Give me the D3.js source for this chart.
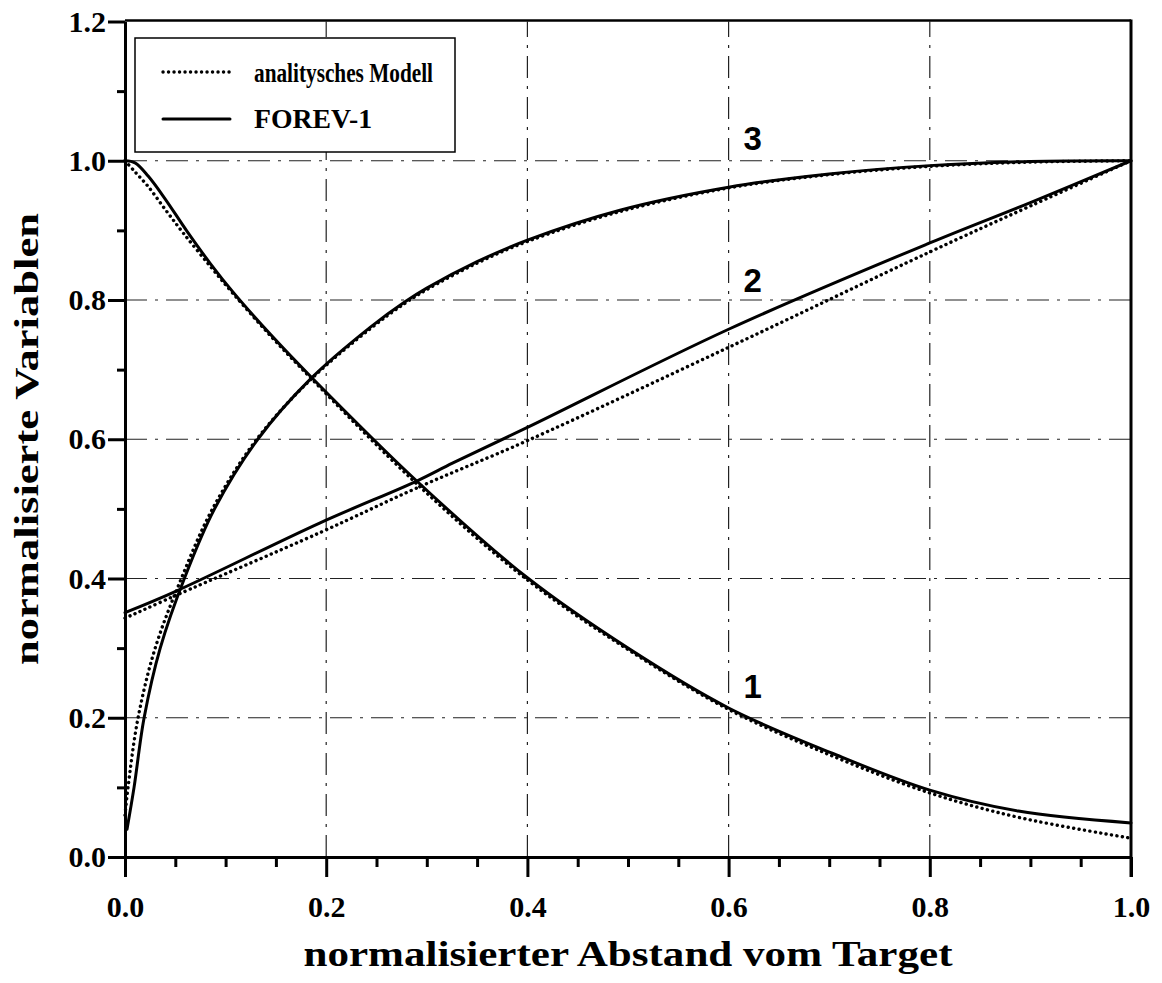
<!DOCTYPE html>
<html>
<head>
<meta charset="utf-8">
<script src="https://cdn.jsdelivr.net/npm/d3@7/dist/d3.min.js"></script>
<style>
  html, body { margin: 0; padding: 0; background: #fff; }
  svg { display: block; }
</style>
</head>
<body>
<svg id="chart" width="1162" height="983"></svg>
<script>
// Curve 1 (falling), curve 2 (near-linear), curve 3 (saturating); x = normalised distance
const curve1Sim = [[0,1.0],[0.01,0.997],[0.023,0.978],[0.04,0.945],[0.061,0.90],[0.085,0.852],[0.107,0.812],[0.145,0.750],[0.186,0.688],[0.29,0.54],[0.40,0.401],[0.5,0.30],[0.6,0.214],[0.703,0.149],[0.8,0.096],[0.888,0.066],[1.0,0.049]];
const curve1Model = [[0,1.0],[0.01,0.984],[0.023,0.963],[0.04,0.93],[0.058,0.896],[0.085,0.848],[0.107,0.81],[0.145,0.748],[0.186,0.686],[0.29,0.536],[0.40,0.398],[0.5,0.298],[0.6,0.212],[0.7,0.147],[0.8,0.092],[0.888,0.057],[1.0,0.027]];
const curve2Sim = [[0,0.351],[0.051,0.382],[0.194,0.480],[0.29,0.540],[0.326,0.566],[0.40,0.617],[0.6,0.758],[0.8,0.882],[0.9,0.94],[1.0,1.0]];
const curve2Model = [[0,0.343],[0.051,0.376],[0.194,0.466],[0.29,0.530],[0.40,0.598],[0.6,0.732],[0.8,0.869],[0.9,0.935],[1.0,1.0]];
const curve3Sim = [[0.002,0.04],[0.009,0.10],[0.019,0.20],[0.035,0.30],[0.059,0.40],[0.089,0.50],[0.132,0.60],[0.184,0.686],[0.244,0.761],[0.278,0.797],[0.3,0.817],[0.35,0.855],[0.40,0.886],[0.492,0.929],[0.6,0.962],[0.7,0.981],[0.8,0.993],[0.9,0.999],[1.0,1.0]];
const curve3Model = [[0,0.06],[0.003,0.10],[0.013,0.20],[0.030,0.30],[0.056,0.40],[0.087,0.50],[0.131,0.60],[0.184,0.685],[0.244,0.759],[0.278,0.795],[0.3,0.815],[0.35,0.853],[0.40,0.884],[0.492,0.927],[0.6,0.961],[0.7,0.980],[0.8,0.992],[0.9,0.998],[1.0,1.0]];

const xMajorTicks = [0, 0.2, 0.4, 0.6, 0.8, 1.0];
const xMinorTicks = [0.05,0.1,0.15,0.25,0.3,0.35,0.45,0.5,0.55,0.65,0.7,0.75,0.85,0.9,0.95];
const yMajorTicks = [0, 0.2, 0.4, 0.6, 0.8, 1.0, 1.2];
const yMinorTicks = [0.1, 0.3, 0.5, 0.7, 0.9, 1.1];
const curveLabels = [["1", 0.624, 0.229], ["2", 0.624, 0.811], ["3", 0.624, 1.015]];
const legendEntries = [["analitysches Modell", "model"], ["FOREV-1", "sim"]];
const xTitle = "normalisierter Abstand vom Target";
const yTitle = "normalisierte Variablen";

const svg = d3.select("#chart");
const x = d3.scaleLinear().domain([0, 1]).range([125, 1131]);
const y = d3.scaleLinear().domain([0, 1.2]).range([857, 21.5]);
const serif = "'Liberation Serif', 'Times New Roman', serif";
const sans = "'Liberation Sans', Arial, sans-serif";

// dash-dot grid
const grid = svg.append("g").attr("stroke", "#222").attr("stroke-width", 1.2)
  .attr("stroke-dasharray", "22,8,3,8").attr("fill", "none");
grid.selectAll("line.gx").data(xMajorTicks.filter(d => d > 0 && d < 1)).join("line")
  .attr("x1", d => x(d)).attr("x2", d => x(d)).attr("y1", y(0)).attr("y2", y(1.2));
grid.selectAll("line.gy").data(yMajorTicks.filter(d => d > 0 && d < 1.2)).join("line")
  .attr("x1", x(0)).attr("x2", x(1)).attr("y1", d => y(d)).attr("y2", d => y(d));

// curves
const line = d3.line().x(d => x(d[0])).y(d => y(d[1])).curve(d3.curveCatmullRom.alpha(0.5));
const styles = {
  sim: { width: 3, dash: null },
  model: { width: 3.4, dash: "0.1,5.4" }
};
const series = [
  [curve1Model, "model"], [curve2Model, "model"], [curve3Model, "model"],
  [curve1Sim, "sim"], [curve2Sim, "sim"], [curve3Sim, "sim"]
];
svg.append("g").selectAll("path").data(series).join("path")
  .attr("d", d => line(d[0]))
  .attr("fill", "none").attr("stroke", "#000")
  .attr("stroke-width", d => styles[d[1]].width)
  .attr("stroke-dasharray", d => styles[d[1]].dash)
  .attr("stroke-linecap", "round").attr("stroke-linejoin", "round");

// axes
function styleAxis(g) {
  g.select(".domain").attr("stroke", "#000").attr("stroke-width", 3);
  g.selectAll(".tick line").attr("stroke", "#000").attr("stroke-width", 3);
  g.selectAll(".tick text").attr("fill", "#000")
    .style("font-family", serif).style("font-weight", "bold").style("font-size", "30px");
}
const fmt = d3.format(".1f");
svg.append("g").attr("transform", `translate(0,${y(0)})`)
  .call(d3.axisBottom(x).tickValues(xMinorTicks).tickSize(10).tickSizeOuter(0).tickFormat(""))
  .call(styleAxis);
svg.append("g").attr("transform", `translate(0,${y(0)})`)
  .call(d3.axisBottom(x).tickValues(xMajorTicks).tickSize(20).tickSizeOuter(0).tickPadding(19).tickFormat(fmt))
  .call(styleAxis);
svg.append("g").attr("transform", `translate(${x(0)},0)`)
  .call(d3.axisLeft(y).tickValues(yMinorTicks).tickSize(8).tickSizeOuter(0).tickFormat(""))
  .call(styleAxis);
svg.append("g").attr("transform", `translate(${x(0)},0)`)
  .call(d3.axisLeft(y).tickValues(yMajorTicks).tickSize(17).tickSizeOuter(0).tickPadding(2).tickFormat(fmt))
  .call(styleAxis);

// top and right frame
svg.append("line").attr("x1", x(0)).attr("x2", x(1)).attr("y1", y(1.2) - 1).attr("y2", y(1.2) - 1)
  .attr("stroke", "#000").attr("stroke-width", 2.5);
svg.append("line").attr("x1", x(1)).attr("x2", x(1)).attr("y1", y(1.2) - 2).attr("y2", y(0) + 20)
  .attr("stroke", "#000").attr("stroke-width", 3);

// curve numbers
svg.append("g").selectAll("text").data(curveLabels).join("text")
  .attr("x", d => x(d[1])).attr("y", d => y(d[2]))
  .attr("text-anchor", "middle")
  .style("font-family", sans).style("font-weight", "bold").style("font-size", "33px")
  .text(d => d[0]);

// legend
const legend = svg.append("g");
legend.append("rect").attr("x", 135).attr("y", 38).attr("width", 320).attr("height", 114)
  .attr("fill", "#fff").attr("stroke", "#000").attr("stroke-width", 1.5);
const rows = legend.selectAll("g.row").data(legendEntries).join("g")
  .attr("transform", (d, i) => `translate(0,${i === 0 ? 72 : 119})`);
rows.append("line").attr("x1", 163).attr("x2", 230).attr("y1", 0).attr("y2", 0)
  .attr("stroke", "#000")
  .attr("stroke-width", d => styles[d[1]].width)
  .attr("stroke-dasharray", d => styles[d[1]].dash)
  .attr("stroke-linecap", "round");
rows.append("text").attr("x", 254).attr("y", (d, i) => i === 0 ? 10 : 9)
  .style("font-family", serif).style("font-weight", "bold").style("font-size", "27px")
  .attr("textLength", (d, i) => i === 0 ? 179 : 118)
  .attr("lengthAdjust", "spacingAndGlyphs")
  .text(d => d[0]);

// axis titles
svg.append("text").attr("x", (x(0) + x(1)) / 2).attr("y", 966)
  .attr("text-anchor", "middle")
  .attr("textLength", 649).attr("lengthAdjust", "spacingAndGlyphs")
  .style("font-family", serif).style("font-weight", "bold").style("font-size", "36px")
  .text(xTitle);
svg.append("text").attr("transform", `translate(38,${(213 + 665) / 2}) rotate(-90)`)
  .attr("text-anchor", "middle")
  .attr("textLength", 452).attr("lengthAdjust", "spacingAndGlyphs")
  .style("font-family", serif).style("font-weight", "bold").style("font-size", "34px")
  .text(yTitle);
</script>
</body>
</html>
